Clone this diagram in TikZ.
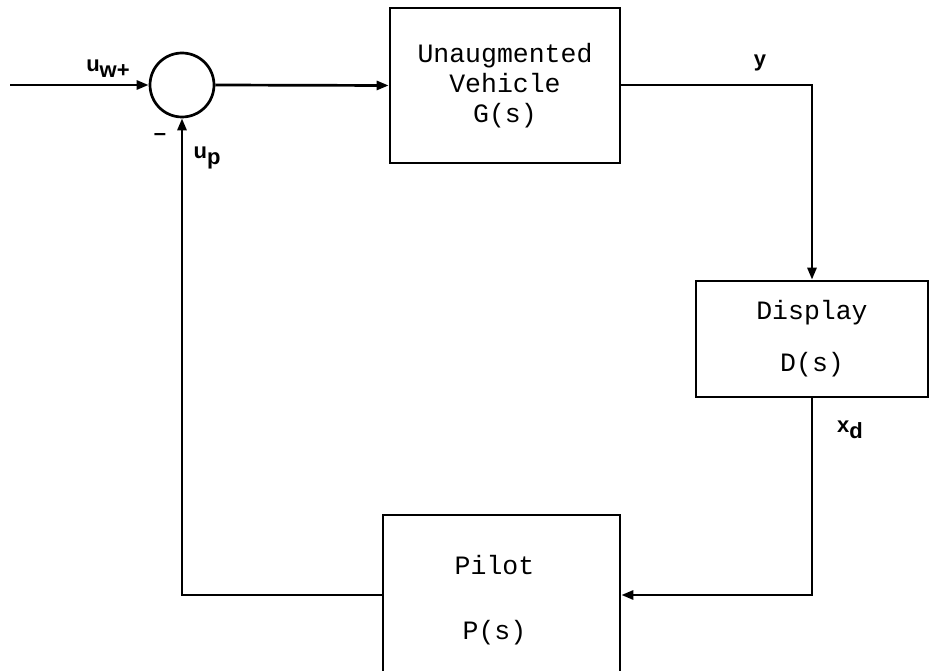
\documentclass[tikz,border=0pt]{standalone}
\usepackage{fontspec}
\setmonofont{Liberation Mono}
\newfontfamily\lblfont{Liberation Sans}
\usetikzlibrary{arrows.meta}
\newcommand{\lsub}[1]{\raisebox{-6pt}{#1}}
\begin{document}
\begin{tikzpicture}[x=1pt,y=-1pt,
  line width=2.7pt,
  blk/.style={draw, rectangle, inner sep=0pt, align=center,
    font=\ttfamily\fontsize{26.5}{32}\selectfont},
  sumj/.style={draw, circle, minimum size=64pt, inner sep=0pt},
  lbl/.style={font=\lblfont\bfseries\fontsize{22}{24}\selectfont, inner sep=0pt},
  arr/.style={-{Triangle[length=12pt,width=9pt]}},
]
\useasboundingbox (0,0) rectangle (930,671);
\node[sumj] (sum) at (182,85) {};
\node[blk, minimum width=230pt, minimum height=155pt] (G) at (505,85.5)
  {Unaugmented\\[-2pt]Vehicle\\[-2pt]G(s)};
\node[blk, minimum width=232pt, minimum height=116pt] (D) at (812,339)
  {Display\\[20pt]D(s)};
\node[blk, minimum width=237pt, minimum height=164pt, text depth=0pt] (P) at (501.5,597)
  {\hspace*{-14pt}Pilot\\[33pt]\hspace*{-14pt}P(s)};
\coordinate (in) at (10,85);
\coordinate (c1) at (812,85);
\coordinate (c2) at (812,595);
\coordinate (c3) at (182,595);

\draw[arr] (in) -- (sum.west);
\draw[arr] (sum.east) -- (G.west);
\draw[arr] (G.east |- c1) -- (c1) -- (D.north);
\draw[arr] (D.south) -- (c2) -- (P.east |- c2);
\draw[arr] (P.west |- c3) -- (c3) -- (sum.south);

\node[lbl] (uw) at (108,69) {u\lsub{w+}};
\node[lbl] (minus) at (160,137) {–};
\node[lbl] (up) at (207,158) {u\lsub{p}};
\node[lbl] (yl) at (760,63) {y};
\node[lbl] (xd) at (850,430) {x\lsub{d}};
\end{tikzpicture}
\end{document}
